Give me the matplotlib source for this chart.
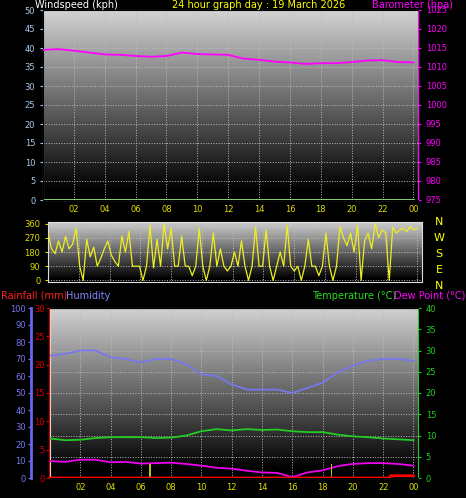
import numpy as np
import matplotlib
matplotlib.use("Agg")
import matplotlib.pyplot as plt

hours = list(range(25))
pressure = [1014.5,1014.7,1014.3,1013.8,1013.3,1013.2,1012.9,1012.7,1012.9,1013.8,1013.4,1013.3,1013.2,
            1012.2,1011.9,1011.4,1011.2,1010.8,1011.0,1011.0,1011.3,1011.7,1011.8,1011.3,1011.2]
windspeed = [0]*25
humidity = [72,73,75,75,71,70,68,70,70,67,61,60,55,52,52,52,50,53,56,62,66,69,70,70,69]
temperature = [9.3,8.9,9.0,9.4,9.6,9.6,9.6,9.4,9.5,10.0,11.0,11.5,11.2,11.5,11.3,11.4,11.0,10.8,10.8,10.2,9.8,9.6,9.3,9.1,8.9]
dewpoint = [4.0,3.8,4.3,4.3,3.7,3.8,3.4,3.5,3.6,3.3,2.9,2.4,2.2,1.7,1.3,1.2,0.2,1.3,1.8,2.8,3.3,3.5,3.5,3.3,2.9]
rain_hours = [0,22.4,22.5,24]
rain_mm = [0,0,0.4,0.4]
event_hours = [6.6,18.6]
event_heights = [8,8]
wind_dir = [300,200,170,250,180,280,200,230,330,90,0,260,150,210,90,140,200,250,160,120,90,280,180,310,90,
            90,90,0,90,350,80,260,90,360,200,330,90,90,280,90,90,30,90,330,90,0,90,300,90,200,90,60,90,180,
            90,250,90,0,90,340,90,90,320,90,0,90,180,90,350,90,60,90,0,90,260,90,90,30,90,300,90,0,90,
            340,270,220,300,180,350,0,250,300,200,360,270,320,300,0,340,300,320,330,310,340,320,330]
wind_dir_hours = list(np.linspace(0,24,len(wind_dir)))

W,H = 466,498
fig = plt.figure(figsize=(W/100,H/100),dpi=100,facecolor='black')

def ax_at(x0,y0,x1,y1):
    return fig.add_axes([x0/W,1-y1/H,(x1-x0)/W,(y1-y0)/H])

grad = np.linspace(0,1,256).reshape(-1,1)
def bg(ax):
    ax.set_facecolor('black')
    ax.imshow(grad,aspect='auto',cmap='gray',extent=[0,1,0,1],transform=ax.transAxes,
              vmin=0.05,vmax=1.2,origin='lower',zorder=0)
    ax.grid(True,color='#bbbbbb',linestyle=':',linewidth=0.7,zorder=1)
    for s in ax.spines.values():
        s.set_color('#dddddd')

xt = list(range(2,25,2))
xl = ['%02d'%(h%24) for h in xt]
fs = 6

# top
ax1 = ax_at(43,10,418,200)
bg(ax1)
ax1.plot(hours,windspeed,color='#99ee88',lw=2,zorder=3)
ax1.set_xlim(0,24.3); ax1.set_ylim(0,50)
ax1.set_yticks(range(0,51,5))
ax1.set_xticks(xt); ax1.set_xticklabels(xl)
ax1.tick_params(axis='x',colors='#dddd00',labelsize=fs,length=0)
ax1b = ax1.twinx()
ax1.tick_params(axis='y',colors='#aaccee',labelsize=fs,length=2)
ax1b.plot(hours,pressure,color='#ff00ff',lw=1.3,zorder=3)
ax1b.set_ylim(975,1025); ax1b.set_yticks(range(975,1026,5))
ax1b.tick_params(axis='y',colors='#ff00ff',labelsize=fs,length=2)
ax1b.spines['right'].set_color('#ff00ff')
fig.text(35/W,1-5/H,'Windspeed (kph)',color='white',fontsize=7,va='center')
fig.text(172/W,1-5/H,'24 hour graph day : 19 March 2026',color='yellow',fontsize=7,va='center')
fig.text(372/W,1-5/H,'Barometer (hpa)',color='#ff00ff',fontsize=7,va='center')

# middle
ax2 = ax_at(48,222,422,282)
bg(ax2)
ax2.plot(wind_dir_hours,wind_dir,color='#eeee22',lw=0.9,zorder=3)
ax2.set_xlim(0,24.3); ax2.set_ylim(-10,370)
ax2.set_yticks([0,90,180,270,360]); ax2.set_yticklabels(['0','90','180','270','360'])
ax2.tick_params(axis='y',colors='#dddd00',labelsize=fs,length=2)
ax2.set_xticks(xt); ax2.tick_params(axis='x',length=0,labelbottom=False)
for i,c in enumerate('NWSEN'):
    fig.text(439/W,1-(222+i*16)/H,c,color='yellow',fontsize=8,ha='center',va='center')

# bottom
ax3 = ax_at(50,308,418,478)
bg(ax3)
ax3.set_xlim(0,24.3); ax3.set_ylim(0,40)
ax3.set_xticks(xt); ax3.set_xticklabels(xl)
ax3.tick_params(axis='x',colors='#dddd00',labelsize=fs,length=0)
ax3.set_yticks(range(0,41,5))
ax3.plot(hours,temperature,color='#22cc22',lw=1.3,zorder=4)
ax3.plot(hours,dewpoint,color='#ee00ee',lw=1.3,zorder=4)
axh = ax3.twinx()
axr = ax3.twinx()
ax3.yaxis.tick_right()
ax3.tick_params(axis='y',colors='#22cc22',labelsize=fs,length=2,left=False,labelleft=False,right=True,labelright=True)
ax3.spines['right'].set_color('#22cc22')

axh.yaxis.tick_left()
axh.set_ylim(0,100); axh.set_yticks(range(0,101,10))
axh.spines['left'].set_position(('outward',14)); axh.spines['left'].set_color('#6666ee'); axh.spines['left'].set_linewidth(2)
axh.spines['right'].set_visible(False)
axh.tick_params(axis='y',colors='#7777ee',labelsize=fs,length=2,pad=1.5)
axh.plot(hours,humidity,color='#7777ee',lw=1.3,zorder=4)
axh.bar(event_hours,event_heights,width=0.08,color='#bbbb22',zorder=3)

axr.yaxis.tick_left()
axr.set_ylim(0,30); axr.set_yticks(range(0,31,5))
axr.spines['left'].set_position(('outward',1)); axr.spines['left'].set_color('#cc0000')
axr.spines['right'].set_visible(False)
axr.tick_params(axis='y',colors='#dd0000',labelsize=fs,length=2,pad=1)
axr.plot(rain_hours,rain_mm,color='#ff0000',lw=2,zorder=5)
axr.set_xlim(0,24.3); axh.set_xlim(0,24.3)
fig.text(1/W,1-296/H,'Rainfall (mm)',color='#ff2222',fontsize=7,va='center')
fig.text(66/W,1-296/H,'Humidity',color='#8888ff',fontsize=7,va='center')
fig.text(312/W,1-296/H,'Temperature (°C)',color='#22dd22',fontsize=7,va='center')
fig.text(465/W,1-296/H,'Dew Point (°C)',color='#ff00ff',fontsize=7,va='center',ha='right')

fig.savefig('out.png',dpi=100,facecolor='black')
